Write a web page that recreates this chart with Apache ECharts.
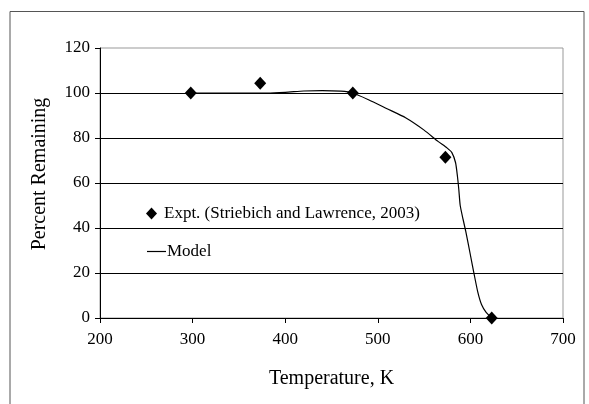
<!DOCTYPE html>
<html>
<head>
<meta charset="utf-8">
<script src="https://cdn.jsdelivr.net/npm/echarts@6/dist/echarts.min.js"></script>
<style>
html, body { margin: 0; padding: 0; background: #fff; }
#chart { width: 589px; height: 404px; }
</style>
</head>
<body>
<div id="chart"></div>
<script>
// experimental points (K, %)
const exptTemp = [298, 373, 473, 573, 623];
const exptValue = [100, 104.3, 100, 71.4, 0];

// model curve
const modelTemp = [298, 320, 350, 380, 400, 420, 440, 460, 473, 490, 510, 530, 550, 565, 575, 580, 584, 586, 587.5, 589, 592, 595, 600, 604, 608, 612, 617, 623];
const modelValue = [100, 100, 100, 100, 100.3, 100.9, 101.1, 100.8, 100, 97, 93, 89, 83.5, 78.5, 75.5, 73.5, 69, 63, 57, 50, 44, 38.5, 28, 19.5, 11.5, 6, 2.5, 0];

const xTicks = { min: 200, max: 700, interval: 100 };
const yTicks = { min: 0, max: 120, interval: 20 };

const font = '"Liberation Serif", "Times New Roman", serif';

const chart = echarts.init(document.getElementById('chart'));
chart.setOption({
	backgroundColor: '#fff',
	animation: false,
	graphic: [{
		type: 'rect',
		shape: { x: 10, y: 11.5, width: 574, height: 400 },
		style: { fill: 'none', stroke: '#555', lineWidth: 1 },
		silent: true
	}],
	grid: {
		left: 100,
		right: 26,
		top: 48,
		bottom: 86,
		show: true,
		borderColor: '#999',
		borderWidth: 1
	},
	legend: [{
		left: 141,
		top: 200,
		itemWidth: 11,
		itemHeight: 12,
		data: [{ name: 'Expt. (Striebich and Lawrence, 2003)', icon: 'diamond' }],
		textStyle: { fontFamily: font, fontSize: 17, color: '#000', padding: [0, 0, 0, 2] }
	}, {
		left: 142,
		top: 238,
		itemWidth: 19,
		itemHeight: 1.2,
		data: [{ name: 'Model', icon: 'rect' }],
		itemStyle: { color: '#000' },
		textStyle: { fontFamily: font, fontSize: 17, color: '#000', padding: [0, 0, 0, -4] }
	}],
	xAxis: {
		type: 'value',
		min: xTicks.min,
		max: xTicks.max,
		interval: xTicks.interval,
		name: 'Temperature, K',
		nameLocation: 'middle',
		nameGap: 51,
		nameTextStyle: { fontFamily: font, fontSize: 20, color: '#000' },
		axisLine: { show: true, onZero: false, lineStyle: { color: '#000', width: 1 } },
		axisTick: { show: true, inside: false, length: 5, lineStyle: { color: '#000' } },
		axisLabel: { margin: 13, fontFamily: font, fontSize: 17, color: '#000' },
		splitLine: { show: false }
	},
	yAxis: {
		type: 'value',
		min: yTicks.min,
		max: yTicks.max,
		interval: yTicks.interval,
		name: 'Percent Remaining',
		nameLocation: 'middle',
		nameGap: 50,
		nameTextStyle: { fontFamily: font, fontSize: 20, color: '#000', padding: [0, 0, 0, 18] },
		axisLine: { show: true, lineStyle: { color: '#000', width: 1 } },
		axisTick: { show: true, inside: false, length: 5, lineStyle: { color: '#000' } },
		axisLabel: { margin: 10, fontFamily: font, fontSize: 17, color: '#000' },
		splitLine: { show: true, showMaxLine: false, lineStyle: { color: '#000', width: 1 } }
	},
	series: [{
		name: 'Model',
		type: 'line',
		data: modelTemp.map((t, i) => [t, modelValue[i]]),
		symbol: 'none',
		smooth: 0.2,
		lineStyle: { color: '#000', width: 1.2 },
		itemStyle: { color: '#000' },
		z: 2
	}, {
		name: 'Expt. (Striebich and Lawrence, 2003)',
		type: 'scatter',
		data: exptTemp.map((t, i) => [t, exptValue[i]]),
		symbol: 'diamond',
		symbolSize: [12, 13],
		itemStyle: { color: '#000', opacity: 1 },
		z: 3
	}]
});
</script>
</body>
</html>
